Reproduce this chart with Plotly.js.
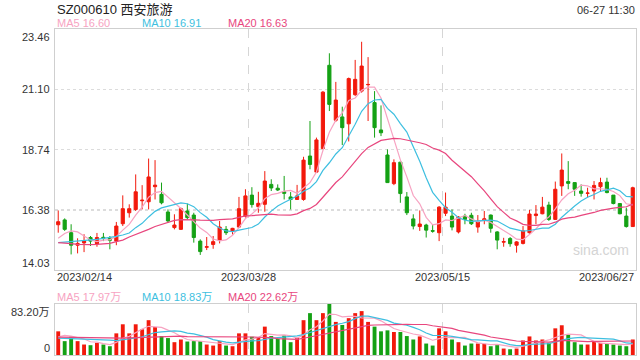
<!DOCTYPE html>
<html>
<head>
<meta charset="utf-8">
<script src="https://cdn.plot.ly/plotly-3.0.1.min.js"></script>
<style>html,body{margin:0;padding:0;background:#fff;}#chart{width:640px;height:360px;}</style>
</head>
<body>
<div id="chart"></div>
<script>
// ---- data ----
const titleText = 'SZ000610 西安旅游';
const timeText = '06-27 11:30';
const dateLabels = ['2023/02/14', '2023/03/28', '2023/05/15', '2023/06/27'];
const priceLabels = ['23.46', '21.10', '18.74', '16.38', '14.03'];
const volLabels = ['83.20万', '0'];
const maLabels = ['MA5 16.60', 'MA10 16.91', 'MA20 16.63'];
const volMaLabels = ['MA5 17.97万', 'MA10 18.83万', 'MA20 22.62万'];

const open = [15.80,15.99,15.49,15.00,15.09,15.30,15.05,15.31,15.28,15.16,
  15.84,16.27,16.40,16.74,16.70,17.29,16.99,16.30,15.69,15.62,
  16.34,16.18,15.16,14.92,15.03,15.20,15.62,15.56,15.71,16.14,
  16.96,16.51,16.60,17.38,17.23,17.09,16.89,16.79,16.79,18.49,
  17.86,18.78,22.04,19.89,20.02,19.75,20.89,21.03,21.28,20.58,
  19.51,18.53,17.41,18.25,16.89,16.03,15.73,15.79,15.57,15.49,
  16.25,16.14,15.52,16.14,16.17,15.71,15.99,16.18,15.52,15.12,
  15.26,15.00,15.07,15.49,16.16,16.23,16.57,16.01,17.32,17.49,
  17.45,17.12,17.03,17.12,17.29,17.47,16.96,16.63,16.14,15.73];
const high = [16.36,16.05,15.82,15.27,15.43,15.36,15.48,15.48,15.36,15.91,
  16.95,16.60,17.77,17.35,18.39,18.33,17.45,16.40,16.21,16.47,
  16.63,16.27,15.23,15.32,15.36,15.95,15.75,15.68,16.89,17.19,
  17.27,17.09,17.90,17.58,17.38,17.71,17.08,17.36,18.46,19.86,
  19.21,21.03,22.51,21.39,20.42,21.56,22.25,22.96,22.36,21.03,
  20.47,18.75,18.36,18.26,17.08,16.21,16.36,15.84,15.82,16.53,
  17.06,16.40,16.14,16.23,16.27,16.18,16.34,16.20,15.55,15.29,
  15.32,15.16,15.75,16.38,16.57,16.89,16.70,17.49,18.59,18.29,
  17.45,17.38,17.25,17.51,17.64,17.64,16.96,16.63,16.47,17.29];
const low = [15.49,15.56,14.64,14.68,14.73,14.97,14.94,15.16,14.84,15.00,
  15.75,16.08,16.34,16.40,16.40,16.79,16.60,15.88,15.62,15.60,
  16.01,15.10,14.62,14.81,14.86,15.07,15.40,15.42,15.67,16.08,
  16.47,16.27,16.31,17.12,17.12,16.79,16.40,16.78,16.74,17.97,
  17.86,18.75,20.25,19.82,18.92,19.06,20.84,20.97,19.86,19.21,
  19.27,17.44,17.35,16.66,16.18,15.62,15.56,15.30,15.49,15.16,
  16.14,15.58,15.46,15.82,15.79,15.49,15.82,15.49,14.84,14.94,
  14.94,14.71,15.03,15.45,15.82,16.21,15.95,15.99,16.93,17.19,
  16.93,16.90,16.86,16.79,17.12,17.03,16.60,16.21,15.69,15.73];
const close = [15.92,15.62,15.00,15.07,15.18,15.16,15.30,15.28,15.19,15.75,
  16.43,16.43,17.09,16.76,17.67,17.35,16.66,15.95,15.79,16.43,
  16.08,15.30,14.75,14.94,15.14,15.71,15.49,15.66,16.43,16.93,
  16.59,16.64,17.51,17.24,17.16,17.03,16.79,16.93,18.33,18.16,
  19.12,20.99,20.51,20.68,19.60,21.52,21.49,22.01,21.29,19.60,
  19.40,17.45,18.23,17.02,16.27,15.75,15.83,15.59,15.55,16.49,
  16.49,15.71,16.10,16.01,15.84,15.92,16.03,15.66,15.20,15.14,
  15.06,15.13,15.56,16.22,16.22,16.49,16.01,17.19,17.94,17.42,
  17.19,17.03,17.04,17.34,17.45,17.06,16.63,16.23,15.73,17.25];
// volume in 万
const volume = [38.6,22.6,29.8,22.6,17.1,16.0,19.8,17.1,14.3,35.3,
  50.1,35.3,50.1,41.9,56.8,45.7,30.9,27.6,20.9,25.3,
  22.0,22.6,22.6,17.1,15.4,22.6,15.4,14.3,35.3,35.3,
  29.8,28.1,46.3,30.9,26.4,32.0,20.9,28.1,56.8,68.3,
  56.8,68.3,83.2,54.0,49.0,60.1,68.3,71.6,54.0,46.3,
  38.6,40.2,37.5,37.5,30.9,25.3,30.3,18.7,15.4,43.5,
  38.6,25.3,20.9,15.4,18.7,18.7,18.2,14.3,17.1,10.5,
  9.4,10.5,23.7,30.3,23.7,25.3,19.8,43.5,48.5,33.6,
  20.9,17.1,17.1,22.6,19.8,18.7,17.1,15.4,14.3,25.3];
// moving-average values at the left edge (their earlier history is off-chart)
const ma5Head = [15.27,15.46,15.56,15.52];
const ma10Head = [15.10,15.12,15.15,15.17,15.18,15.20,15.23,15.27,15.30];
const ma20Head = [15.10,15.09,15.06,15.03,15.02,15.02,15.03,15.05,15.07,15.14,
  15.20,15.32,15.41,15.52,15.62,15.73,15.82,15.91,15.97];
const vma5Head = [29.8,32.0,30.9,28.1];
const vma10Head = [27.6,27.3,27.0,26.6,26.0,25.5,25.0,24.6,24.2];
const vma20Head = [29.0,28.8,28.6,28.4,28.2,28.0,27.8,27.6,27.4,27.4,
  27.6,28.0,28.4,28.9,29.4,29.8,30.2,30.5,30.7];

// ---- derived ----
const idx = close.map((_, i) => i);
function movAvg(arr, n, head) {
  return arr.map((_, i) => {
    if (i < n - 1) return head[i];
    let s = 0;
    for (let k = i - n + 1; k <= i; k++) s += arr[k];
    return s / n;
  });
}
const RED = '#f2190c', GREEN = '#14a114';
const C5 = '#f7a3c2', C10 = '#3ebfe0', C20 = '#e8467e';
const volColors = close.map((c, i) => c >= open[i] ? RED : GREEN);

const FONT = '"Liberation Sans", Arial, "Noto Sans CJK SC", sans-serif';
const W = 640, H = 360, L = 55, R = 4, T = 29, B = 5;
const PH = H - T - B;
const py = p => (H - B - p) / PH; // pixel row -> paper y
const px = p => (p - L) / (W - L - R); // pixel column -> paper x

const traces = [
  {type: 'candlestick', x: idx, open: open, high: high, low: low, close: close,
   xaxis: 'x', yaxis: 'y', whiskerwidth: 0,
   increasing: {line: {color: RED, width: 1}, fillcolor: RED},
   decreasing: {line: {color: GREEN, width: 1}, fillcolor: GREEN},
   hoverinfo: 'skip', showlegend: false},
  {type: 'scatter', mode: 'lines', x: idx, y: movAvg(close, 5, ma5Head), xaxis: 'x', yaxis: 'y',
   line: {color: C5, width: 1.2}, hoverinfo: 'skip', showlegend: false},
  {type: 'scatter', mode: 'lines', x: idx, y: movAvg(close, 10, ma10Head), xaxis: 'x', yaxis: 'y',
   line: {color: C10, width: 1.2}, hoverinfo: 'skip', showlegend: false},
  {type: 'scatter', mode: 'lines', x: idx, y: movAvg(close, 20, ma20Head), xaxis: 'x', yaxis: 'y',
   line: {color: C20, width: 1.2}, hoverinfo: 'skip', showlegend: false},
  {type: 'bar', x: idx, y: volume, xaxis: 'x2', yaxis: 'y2', width: 0.6,
   marker: {color: volColors, line: {width: 0}}, hoverinfo: 'skip', showlegend: false},
  {type: 'scatter', mode: 'lines', x: idx, y: movAvg(volume, 5, vma5Head), xaxis: 'x2', yaxis: 'y2',
   line: {color: C5, width: 1.2}, hoverinfo: 'skip', showlegend: false},
  {type: 'scatter', mode: 'lines', x: idx, y: movAvg(volume, 10, vma10Head), xaxis: 'x2', yaxis: 'y2',
   line: {color: C10, width: 1.2}, hoverinfo: 'skip', showlegend: false},
  {type: 'scatter', mode: 'lines', x: idx, y: movAvg(volume, 20, vma20Head), xaxis: 'x2', yaxis: 'y2',
   line: {color: C20, width: 1.2}, hoverinfo: 'skip', showlegend: false}
];

const priceVals = priceLabels.map(Number);
const gridX = [29.5, 59.5];
const boxLine = '#cfcfcf';
const axX = {
  range: [-0.5, close.length - 0.5], tickmode: 'array', tickvals: gridX, showticklabels: false,
  ticks: '', showgrid: true, gridcolor: '#d6d6d6', griddash: 'dash', gridwidth: 1,
  zeroline: false, showline: true, linecolor: boxLine, linewidth: 1, mirror: true,
  rangeslider: {visible: false}, fixedrange: true
};

const annotations = [];
const txt = (text, x, y, opts) => annotations.push(Object.assign({
  text: text, x: x, y: y, xref: 'paper', yref: 'paper', showarrow: false,
  xanchor: 'left', yanchor: 'middle', font: {family: FONT, size: 11, color: '#333'}
}, opts || {}));

txt(titleText, px(55), py(10), {font: {family: FONT, size: 13, color: '#222'}});
txt(timeText, px(637), py(10), {xanchor: 'right', font: {family: FONT, size: 11, color: '#333'}});
const legX = [55, 140, 226];
const legC = [C5, C10, C20];
maLabels.forEach((t, k) => txt(t, px(legX[k]), py(23), {font: {family: FONT, size: 11, color: legC[k]}}));
volMaLabels.forEach((t, k) => txt(t, px(legX[k]), py(297), {font: {family: FONT, size: 11, color: legC[k]}}));
// price axis labels (first/last kept inside the frame)
priceLabels.forEach((t, k) => {
  const shift = k === 0 ? -8 : (k === priceLabels.length - 1 ? 7 : 0);
  annotations.push({text: t, x: 0, y: priceVals[k], xref: 'paper', yref: 'y', xanchor: 'right',
    yanchor: 'middle', xshift: -3, yshift: shift, showarrow: false,
    font: {family: FONT, size: 11, color: '#333'}});
});
annotations.push({text: volLabels[0], x: 0, y: 83.2, xref: 'paper', yref: 'y2', xanchor: 'right',
  yanchor: 'middle', xshift: -3, yshift: -8, showarrow: false, font: {family: FONT, size: 11, color: '#333'}});
annotations.push({text: volLabels[1], x: 0, y: 0, xref: 'paper', yref: 'y2', xanchor: 'right',
  yanchor: 'middle', xshift: -3, yshift: 7, showarrow: false, font: {family: FONT, size: 11, color: '#333'}});
// date labels
const dateX = [-0.5, gridX[0], gridX[1], close.length - 0.5];
const dateAnchor = ['left', 'center', 'center', 'right'];
dateLabels.forEach((t, k) => annotations.push({text: t, x: dateX[k], y: py(277), xref: 'x', yref: 'paper',
  xanchor: dateAnchor[k], yanchor: 'middle', showarrow: false, font: {family: FONT, size: 11, color: '#333'}}));
// watermark
txt('sina.com', px(631), py(250), {xanchor: 'right', font: {family: FONT, size: 14, color: '#d4d4d4'}});

const layout = {
  width: W, height: H, margin: {l: L, r: R, t: T, b: B},
  paper_bgcolor: '#fff', plot_bgcolor: '#fff', showlegend: false, dragmode: false,
  boxgap: 0.3,
  xaxis: Object.assign({}, axX, {anchor: 'y'}),
  xaxis2: Object.assign({}, axX, {anchor: 'y2', matches: 'x'}),
  yaxis: {domain: [py(270), 1], range: [priceVals[4], priceVals[0]], tickmode: 'array',
    tickvals: priceVals.slice(1, 4), showticklabels: false, ticks: '', showgrid: true,
    gridcolor: '#dcdcdc', griddash: 'dot', gridwidth: 1.5, zeroline: false, showline: true,
    linecolor: boxLine, linewidth: 1, mirror: true, fixedrange: true},
  yaxis2: {domain: [0, py(304)], range: [0, 83.2], showticklabels: false, ticks: '', showgrid: false,
    zeroline: false, showline: true, linecolor: boxLine, linewidth: 1, mirror: true, fixedrange: true},
  annotations: annotations
};

Plotly.newPlot('chart', traces, layout, {staticPlot: true, displayModeBar: false});
</script>
</body>
</html>
